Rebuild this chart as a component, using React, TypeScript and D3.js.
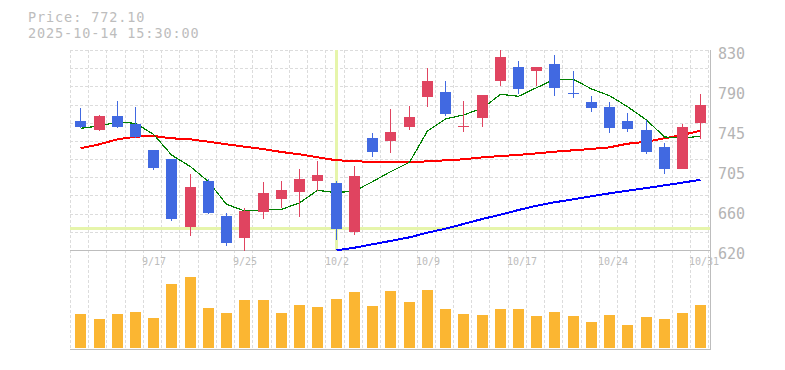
import React, { useEffect, useRef } from 'react'
import * as d3 from 'd3'

// trading days shown (Tokyo calendar)
const dates = [
  '9/10', '9/11', '9/12', '9/16', '9/17', '9/18', '9/19', '9/22', '9/24', '9/25',
  '9/26', '9/29', '9/30', '10/1', '10/2', '10/3', '10/6', '10/7', '10/8', '10/9',
  '10/10', '10/14', '10/15', '10/16', '10/17', '10/20', '10/21', '10/22', '10/23', '10/24',
  '10/27', '10/28', '10/29', '10/30', '10/31',
]

const opens = [
  755.5, 746.0, 760.7, 752.3, 724.5, 715.5, 644.5, 692.5, 655.7, 632.9,
  660.3, 673.6, 680.9, 692.8, 690.4, 638.9, 737.6, 734.8, 749.5, 780.5,
  785.9, 748.9, 758.6, 797.8, 812.2, 808.3, 815.3, 784.6, 775.4, 770.2,
  755.5, 746.0, 728.2, 705.3, 753.7,
]
const highs = [
  769.0, 761.8, 776.5, 770.0, 724.5, 715.5, 699.8, 694.6, 658.9, 664.1,
  691.4, 692.5, 705.0, 713.5, 692.0, 708.2, 742.9, 768.0, 771.2, 811.0,
  797.5, 776.5, 783.0, 830.0, 818.5, 812.2, 824.8, 808.0, 781.7, 775.4,
  763.9, 756.5, 732.4, 752.3, 783.8,
]
const lows = [
  748.0, 745.3, 748.0, 738.0, 704.3, 650.8, 635.0, 658.2, 624.5, 619.3,
  652.9, 664.4, 655.0, 682.3, 630.5, 635.8, 718.0, 722.2, 746.0, 770.5,
  761.0, 744.2, 748.9, 792.5, 784.1, 792.5, 782.0, 780.0, 765.2, 743.2,
  743.9, 721.0, 700.0, 705.3, 736.3,
]
const closes = [
  749.5, 760.7, 749.5, 738.7, 706.0, 652.9, 686.0, 659.2, 627.7, 660.6,
  679.9, 683.0, 694.5, 698.8, 642.4, 697.7, 723.3, 743.9, 759.7, 797.5,
  763.1, 750.7, 782.8, 822.7, 789.4, 812.2, 790.4, 783.5, 769.4, 748.4,
  747.4, 723.2, 705.4, 749.2, 772.1,
]
// volume, thousand shares
const volumes = [
  1020, 870, 1020, 1080, 900, 1920, 2130, 1200, 1050, 1440,
  1440, 1050, 1290, 1230, 1470, 1680, 1260, 1710, 1380, 1740,
  1170, 1020, 990, 1170, 1170, 960, 1080, 960, 780, 990,
  690, 930, 870, 1050, 1290,
]

// moving averages
const ma5 = [
  747.8, 750.2, 754.4, 753.0, 741.5, 719.8, 707.5, 691.7, 668.0, 661.0,
  662.0, 662.7, 669.4, 682.7, 680.2, 682.0, 691.7, 702.2, 712.1, 745.0,
  757.6, 761.8, 768.8, 783.5, 781.4, 790.4, 799.2, 799.2, 789.1, 782.0,
  770.5, 756.5, 738.7, 737.6, 739.4,
]
const ma25 = [
  726.8, 731.0, 736.2, 739.0, 739.7, 737.3, 736.2, 733.7, 731.0, 728.5,
  726.0, 722.9, 720.5, 717.3, 714.2, 713.5, 712.1, 712.1, 712.1, 713.1,
  714.2, 715.2, 717.3, 718.7, 719.8, 721.5, 723.2, 724.7, 726.1, 727.8,
  731.6, 733.7, 737.3, 740.8, 745.3,
]
const ma75: (number | null)[] = [
  null, null, null, null, null, null, null, null, null, null,
  null, null, null, null, 619.7, 622.4, 626.0, 629.5, 633.3, 638.2,
  642.4, 647.3, 652.6, 657.1, 662.0, 666.5, 670.1, 673.2, 676.4, 679.5,
  682.3, 685.1, 687.9, 690.7, 693.8,
]

const priceTickValues = [830, 788, 746, 704, 662, 620]
const priceTickLabels = ['830', '790', '745', '705', '660', '620']
const dateTickLabels = ['9/17', '9/25', '10/2', '10/9', '10/17', '10/24', '10/31']

const lastPrice = '772.10'
const lastTime = '2025-10-14 15:30:00'
const crossDate = '10/2'
const crossPrice = 642.6

const UP = '#e04460'
const DOWN = '#4169e1'
const VOL = '#fbb632'
const GRID = '#dcdcdc'
const AXIS = '#bdbdbd'
const CROSS = '#e6f5ab'
const MONO = '"DejaVu Sans Mono", monospace'

const left = 70
const right = 710
const top = 50
const priceBottom = 250
const volBottom = 350

const App: React.FC = () => {
  const svgRef = useRef<SVGSVGElement>(null)

  useEffect(() => {
    if (!svgRef.current) return
    const svg = d3.select(svgRef.current)
    svg.selectAll('*').remove()

    const n = dates.length
    const x = d3.scaleLinear().domain([0, n]).range([left, right - 1.7])
    const cx = (i: number) => Math.round(x(i + 0.565)) + 0.5
    const y = d3.scaleLinear().domain([620, 830]).range([priceBottom, top])
    const yv = d3.scaleLinear().domain([0, 2340]).range([volBottom - 2, volBottom - 80])

    // grid
    const grid = svg.append('g')
      .attr('stroke', GRID)
      .attr('stroke-width', 1)
      .attr('stroke-dasharray', '3,2')
      .attr('shape-rendering', 'crispEdges')
    d3.range(11).forEach(k => {
      const gy = Math.round(top + k * (priceBottom - top) / 11) + 0.5
      grid.append('line').attr('x1', left).attr('x2', right).attr('y1', gy).attr('y2', gy)
    })
    d3.range(n + 1).forEach(k => {
      const gx = Math.round(x(k)) + 0.5
      grid.append('line').attr('x1', gx).attr('x2', gx).attr('y1', top).attr('y2', volBottom)
    })

    // crosshair
    const ci = dates.indexOf(crossDate)
    svg.append('line')
      .attr('x1', left).attr('x2', right)
      .attr('y1', y(crossPrice)).attr('y2', y(crossPrice))
      .attr('stroke', CROSS).attr('stroke-width', 3)
    svg.append('line')
      .attr('x1', cx(ci)).attr('x2', cx(ci))
      .attr('y1', top).attr('y2', priceBottom)
      .attr('stroke', CROSS).attr('stroke-width', 3)

    // axes frame
    const frame = svg.append('g').attr('stroke', AXIS).attr('stroke-width', 1).attr('shape-rendering', 'crispEdges')
    frame.append('line').attr('x1', left).attr('x2', right + 1).attr('y1', priceBottom + 0.5).attr('y2', priceBottom + 0.5)
    frame.append('line').attr('x1', left).attr('x2', right + 1).attr('y1', volBottom - 0.5).attr('y2', volBottom - 0.5)
    frame.append('line').attr('x1', right + 0.5).attr('x2', right + 0.5).attr('y1', top).attr('y2', volBottom)

    // moving averages
    const series: [(number | null)[], string, number][] = [
      [ma75, '#0000ff', 2],
      [ma25, '#ff0000', 2],
      [ma5, '#008000', 1.2],
    ]
    series.forEach(([vals, color, w]) => {
      const line = d3.line<number | null>()
        .defined(d => d != null)
        .x((_, i) => cx(i))
        .y(d => y(d as number))
      svg.append('path')
        .datum(vals)
        .attr('fill', 'none')
        .attr('stroke', color)
        .attr('stroke-width', w)
        .attr('shape-rendering', 'crispEdges')
        .attr('d', line)
    })

    // candles
    const candles = svg.append('g').attr('shape-rendering', 'crispEdges')
    dates.forEach((_, i) => {
      const o = opens[i]
      const c = closes[i]
      const color = c >= o ? UP : DOWN
      const xc = cx(i)
      candles.append('line')
        .attr('x1', xc).attr('x2', xc)
        .attr('y1', y(highs[i])).attr('y2', y(lows[i]))
        .attr('stroke', color).attr('stroke-width', 1)
      const yTop = Math.round(y(Math.max(o, c)))
      const yBot = Math.round(y(Math.min(o, c)))
      candles.append('rect')
        .attr('x', xc - 5.5)
        .attr('y', yTop)
        .attr('width', 11)
        .attr('height', Math.max(1, yBot - yTop))
        .attr('fill', color)
    })

    // volume
    svg.append('g').attr('shape-rendering', 'crispEdges')
      .selectAll('rect')
      .data(volumes)
      .enter()
      .append('rect')
      .attr('x', (_, i) => cx(i) - 5.5)
      .attr('y', d => Math.round(yv(d)))
      .attr('width', 11)
      .attr('height', d => Math.round(yv(0)) - Math.round(yv(d)))
      .attr('fill', VOL)

    // price labels
    svg.append('g')
      .selectAll('text')
      .data(priceTickValues)
      .enter()
      .append('text')
      .attr('x', right + 8)
      .attr('y', d => y(d) + 8.5)
      .attr('font-family', MONO)
      .attr('font-size', 15)
      .attr('fill', '#b4b4b4')
      .text((_, i) => priceTickLabels[i])

    // date labels
    svg.append('g')
      .selectAll('text')
      .data(dateTickLabels)
      .enter()
      .append('text')
      .attr('x', d => cx(dates.indexOf(d)) - 11.5)
      .attr('y', priceBottom + 15)
      .attr('font-family', MONO)
      .attr('font-size', 10)
      .attr('fill', '#bcbcbc')
      .text(d => d)

    // header
    const header = svg.append('g')
      .attr('font-family', MONO)
      .attr('font-size', 13.5)
      .attr('letter-spacing', 0.9)
      .attr('fill', '#bdbdbd')
    header.append('text').attr('x', 28).attr('y', 22).text(`Price: ${lastPrice}`)
    header.append('text').attr('x', 28).attr('y', 38).text(lastTime)
  }, [])

  return (
    <svg
      ref={svgRef}
      width={785}
      height={370}
      style={{ position: 'absolute', left: 0, top: 0, background: '#fff' }}
    />
  )
}

export default App
